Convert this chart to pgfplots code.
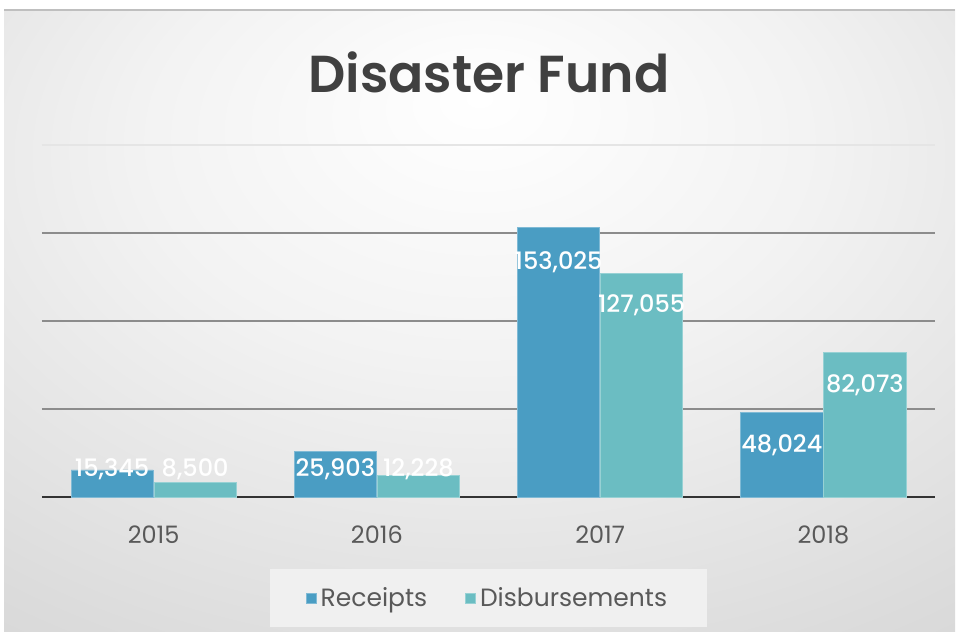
\documentclass[border=0pt]{standalone}
\usepackage{pgfplots}
\pgfplotsset{compat=1.18}
\usepackage{fontspec}
\setmainfont{Poppins}
\newfontfamily\pmed{Poppins Medium}
\newfontfamily\psemi{Poppins SemiBold}
\definecolor{rec}{HTML}{4A9DC3}
\definecolor{dis}{HTML}{6BBDC2}
\definecolor{tickc}{HTML}{595959}
\definecolor{ttl}{HTML}{404040}
\pgfdeclareradialshading{panel}{\pgfpoint{0bp}{18bp}}{color(0bp)=(white); color(18bp)=(black!5); color(40bp)=(black!14); color(60bp)=(black!21); color(90bp)=(black!27)}
\begin{document}
\begin{tikzpicture}
\path[use as bounding box] (0,0) rectangle (480pt,317.5pt);
\fill[white] (0,0) rectangle (480pt,317.5pt);
\shade[shading=panel] (2pt,1.5pt) rectangle (477.5pt,312.5pt);
\draw[black!25, line width=0.6pt] (2pt,312.5pt) -- (477.5pt,312.5pt);
\node[text=ttl, font=\psemi\fontsize{26}{26}\selectfont] at (244.5pt,281.5pt) {Disaster Fund};
\begin{axis}[
  at={(21pt,69pt)}, anchor=south west,
  scale only axis, width=446.5pt, height=176pt,
  xmin=-0.5, xmax=3.5, ymin=0, ymax=200000,
  axis x line*=bottom, axis y line*=left,
  y axis line style={draw=none},
  x axis line style={draw=black!80, line width=1pt, -},
  xtick={0,1,2,3}, xticklabels={2015,2016,2017,2018},
  major tick length=0pt,
  xticklabel style={text=tickc, font=\fontsize{12}{12}\selectfont, anchor=center, yshift=-19pt},
  scaled y ticks=false,
  ytick={50000,100000},
  yticklabels={},
  extra y ticks={150000},
  extra y tick labels={},
  extra y tick style={grid style={black!30, line width=0.8pt}},
  ymajorgrids,
  y grid style={black!45, line width=0.8pt},
  clip=false,
  legend style={at={(0.5,-0.287)}, anchor=center, fill=black!6, draw=none,
    text=tickc, font=\fontsize{12.5}{12.5}\selectfont,
    inner xsep=18pt, inner ysep=7pt,
    /tikz/every even column/.append style={column sep=17pt}},
  legend columns=2,
  legend image code/.code={\fill[#1] (0pt,-2.5pt) rectangle (5pt,2.5pt);},
]
\draw[black!10, line width=0.8pt] (axis cs:-0.5,200000) -- (axis cs:3.5,200000);
\addplot[ybar, fill=rec, draw=rec!70!white, line width=0.4pt, bar width=0.368, bar shift=-0.186]
  coordinates {(0,15345) (1,25903) (2,153025) (3,48024)};
\addlegendentry{Receipts}
\addplot[ybar, fill=dis, draw=dis!70!white, line width=0.4pt, bar width=0.368, bar shift=0.186]
  coordinates {(0,8500) (1,12228) (2,127055) (3,82073)};
\addlegendentry{Disbursements}
\addplot[forget plot, draw=none, mark=none, nodes near coords, point meta=explicit symbolic,
  nodes near coords style={anchor=center, text=white, font=\pmed\fontsize{12}{12}\selectfont}]
  table[x=x, y=y, meta=lab] {
x y lab
-0.186 15909 15,345
0.814 15909 25,903
1.814 133523 153,025
2.814 29545 48,024
0.186 15909 8,500
1.186 15909 12,228
2.186 109091 127,055
3.186 63636 82,073
};
\end{axis}
\end{tikzpicture}
\end{document}
